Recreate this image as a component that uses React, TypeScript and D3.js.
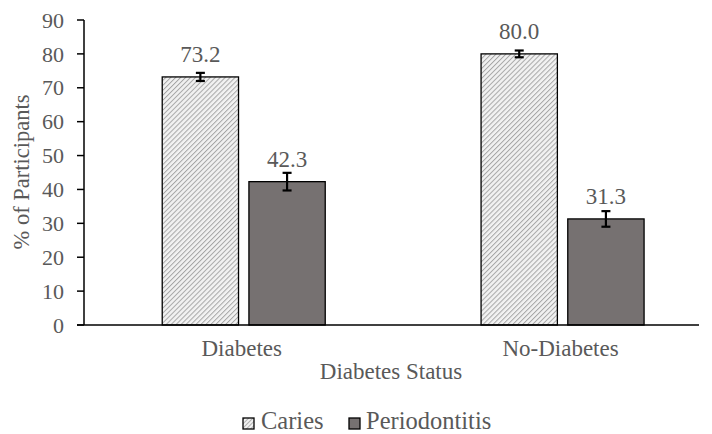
import React from "react";
import * as d3 from "d3";

const categories = ["Diabetes", "No-Diabetes"];
const seriesNames = ["Caries", "Periodontitis"];
const cariesValues = [73.2, 80.0];
const periodontitisValues = [42.3, 31.3];
const cariesErrors = [1.2, 1.0];
const periodontitisErrors = [2.6, 2.3];
const yTicks = [0, 10, 20, 30, 40, 50, 60, 70, 80, 90];

const W = 712;
const H = 434;
const FONT = "'Liberation Serif', 'Times New Roman', serif";
const TEXT = "#595959";

export default function App() {
  const y = d3.scaleLinear().domain([0, 90]).range([325, 20]);
  const x0 = d3.scaleBand().domain(categories).range([84.3, 722]).paddingInner(0).paddingOuter(0);
  const groupW = 163;
  const x1 = d3.scaleBand().domain(seriesNames).range([0, groupW]).paddingInner(0.12).paddingOuter(0);

  const series = [
    { name: "Caries", values: cariesValues, errors: cariesErrors, fill: "url(#hatch)" },
    { name: "Periodontitis", values: periodontitisValues, errors: periodontitisErrors, fill: "#767171" },
  ];

  return (
    <svg width={W} height={H} style={{ position: "absolute", left: 0, top: 0, background: "#fff" }}>
      <defs>
        <pattern id="hatch" patternUnits="userSpaceOnUse" width={3.5} height={3.5} patternTransform="rotate(45)">
          <rect width={3.5} height={3.5} fill="#f2f2f2" />
          <line x1={0} y1={0} x2={0} y2={3.5} stroke="#a6a6a6" strokeWidth={2} />
        </pattern>
        <pattern id="hatchSmall" patternUnits="userSpaceOnUse" width={3} height={3} patternTransform="rotate(45)">
          <rect width={3} height={3} fill="#f2f2f2" />
          <line x1={0} y1={0} x2={0} y2={3} stroke="#a0a0a0" strokeWidth={1.6} />
        </pattern>
      </defs>

      {/* bars */}
      {categories.map((c, ci) => {
        const gx = (x0(c) as number) + x0.bandwidth() / 2 - groupW / 2;
        return (
          <g key={c}>
            {series.map((s) => {
              const bx = gx + (x1(s.name) as number);
              const bw = x1.bandwidth();
              const v = s.values[ci];
              const e = s.errors[ci];
              const cx = bx + bw / 2;
              return (
                <g key={s.name}>
                  <rect x={bx} y={y(v)} width={bw} height={y(0) - y(v)} fill={s.fill} stroke="#000" strokeWidth={1.3} />
                  <line x1={cx} x2={cx} y1={y(v + e)} y2={y(v - e)} stroke="#000" strokeWidth={2.2} />
                  <line x1={cx - 4.5} x2={cx + 4.5} y1={y(v + e)} y2={y(v + e)} stroke="#000" strokeWidth={2.2} />
                  <line x1={cx - 4.5} x2={cx + 4.5} y1={y(v - e)} y2={y(v - e)} stroke="#000" strokeWidth={2.2} />
                  <text x={cx} y={y(v) - 15} textAnchor="middle" fontFamily={FONT} fontSize={23} fill={TEXT}>
                    {v.toFixed(1)}
                  </text>
                </g>
              );
            })}
            <text x={(x0(c) as number) + x0.bandwidth() / 2 - 2} y={356} textAnchor="middle" fontFamily={FONT} fontSize={23} fill={TEXT}>
              {c}
            </text>
          </g>
        );
      })}

      {/* y axis */}
      <line x1={84} x2={84} y1={y(90)} y2={y(0)} stroke="#000" strokeWidth={1.5} />
      {yTicks.map((t) => (
        <g key={t}>
          <line x1={77} x2={84} y1={y(t)} y2={y(t)} stroke="#000" strokeWidth={1.5} />
          <text x={64} y={y(t)} dy="0.35em" textAnchor="end" fontFamily={FONT} fontSize={22} fill={TEXT}>
            {t}
          </text>
        </g>
      ))}
      {/* x axis */}
      <line x1={77} x2={699} y1={y(0)} y2={y(0)} stroke="#000" strokeWidth={1.5} />

      {/* axis titles */}
      <text transform={`translate(29,${172}) rotate(-90)`} textAnchor="middle" fontFamily={FONT} fontSize={22.5} fill={TEXT}>
        % of Participants
      </text>
      <text x={391} y={379} textAnchor="middle" fontFamily={FONT} fontSize={23} fill={TEXT}>
        Diabetes Status
      </text>

      {/* legend */}
      <g>
        <rect x={243} y={418} width={11} height={11} fill="url(#hatchSmall)" stroke="#000" strokeWidth={1.3} />
        <text x={261} y={429} fontFamily={FONT} fontSize={24.5} fill={TEXT}>Caries</text>
        <rect x={349} y={418} width={11} height={11} fill="#767171" stroke="#000" strokeWidth={1.3} />
        <text x={366} y={429} fontFamily={FONT} fontSize={24.5} fill={TEXT}>Periodontitis</text>
      </g>
    </svg>
  );
}
